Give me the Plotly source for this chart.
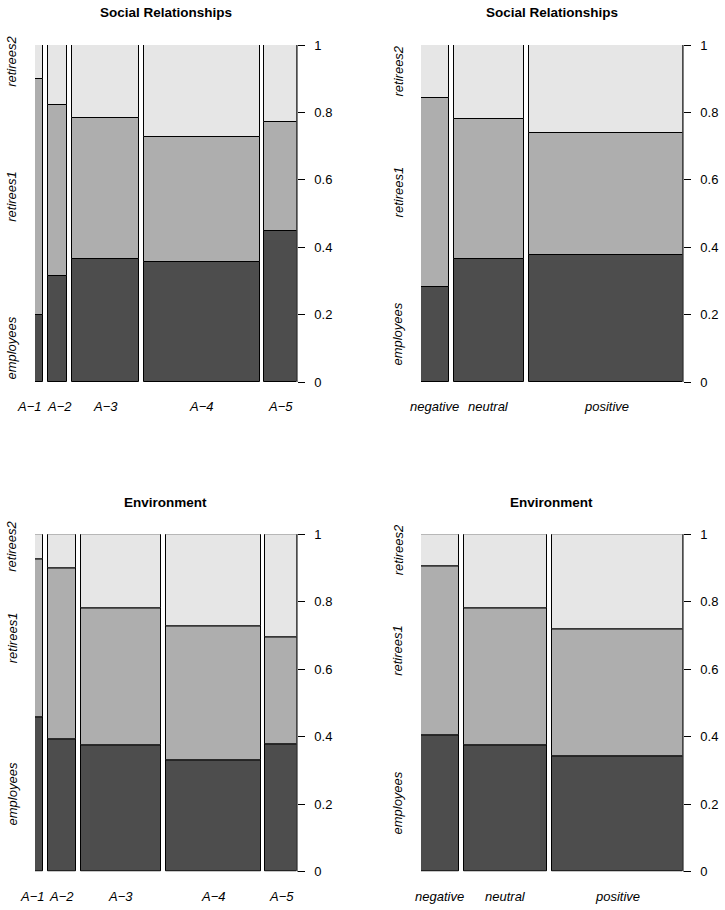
import plotly.graph_objects as go

# group labels
age_groups = ["A\u22121", "A\u22122", "A\u22123", "A\u22124", "A\u22125"]
attitude = ["negative", "neutral", "positive"]
status = ["employees", "retirees1", "retirees2"]

# Social Relationships by age group: column widths (share of cases) and row shares
soc_age_width = [0.0318, 0.0800, 0.2806, 0.4775, 0.1337]
soc_age_emp = [0.200, 0.316, 0.365, 0.356, 0.449]
soc_age_ret1 = [0.700, 0.505, 0.418, 0.372, 0.323]
soc_age_ret2 = [0.100, 0.179, 0.217, 0.272, 0.228]

# Social Relationships by attitude
soc_att_width = [0.110, 0.2806, 0.6097]
soc_att_emp = [0.283, 0.366, 0.377]
soc_att_ret1 = [0.560, 0.416, 0.361]
soc_att_ret2 = [0.157, 0.218, 0.262]

# Environment by age group
env_age_width = [0.0318, 0.1184, 0.3318, 0.3937, 0.1296]
env_age_emp = [0.458, 0.392, 0.374, 0.330, 0.378]
env_age_ret1 = [0.468, 0.508, 0.407, 0.396, 0.317]
env_age_ret2 = [0.074, 0.100, 0.219, 0.274, 0.305]

# Environment by attitude
env_att_width = [0.1498, 0.3315, 0.5234]
env_att_emp = [0.404, 0.374, 0.342]
env_att_ret1 = [0.501, 0.407, 0.375]
env_att_ret2 = [0.095, 0.219, 0.283]

colors = ["#4D4D4D", "#AEAEAE", "#E6E6E6"]
FONT = "Liberation Sans, Arial, Helvetica, sans-serif"
W, H = 725, 910
off = 0.02
FS = 13

# rough Helvetica advance widths (per 1000 em) for label spacing
CHAR_W = {"A": 667, "\u2212": 584, "n": 556, "e": 556, "g": 556, "a": 556,
          "t": 278, "i": 222, "v": 500, "u": 556, "r": 333, "l": 222,
          "p": 556, "o": 556, "s": 500}


def text_width(s):
    return sum(CHAR_W.get(c, 556) for c in s) * FS / 1000.0


panels = [
    dict(title="Social Relationships", cats=age_groups, width=soc_age_width,
         shares=[soc_age_emp, soc_age_ret1, soc_age_ret2],
         xdom=[35, 296.7], ydom=[45, 382.3], title_y=13, lab_y=407),
    dict(title="Social Relationships", cats=attitude, width=soc_att_width,
         shares=[soc_att_emp, soc_att_ret1, soc_att_ret2],
         xdom=[421, 682.7], ydom=[45, 382.3], title_y=13, lab_y=407),
    dict(title="Environment", cats=age_groups, width=env_age_width,
         shares=[env_age_emp, env_age_ret1, env_age_ret2],
         xdom=[35, 296.7], ydom=[534.3, 871.7], title_y=502, lab_y=896),
    dict(title="Environment", cats=attitude, width=env_att_width,
         shares=[env_att_emp, env_att_ret1, env_att_ret2],
         xdom=[421, 682.7], ydom=[534.3, 871.7], title_y=502, lab_y=896),
]


def spread_labels(cx, labels, left_limit, gap=6):
    # push apart labels that would overlap, left one first (down to a limit)
    pos = list(cx)
    for j in range(1, len(pos)):
        need = (text_width(labels[j - 1]) + text_width(labels[j])) / 2 + gap
        short = need - (pos[j] - pos[j - 1])
        if short > 0:
            room = pos[j - 1] - text_width(labels[j - 1]) / 2 - left_limit
            move_left = max(0.0, min(short, room)) if j == 1 else 0.0
            pos[j - 1] -= move_left
            pos[j] += short - move_left
    return pos


fig = go.Figure()
annotations = []
layout = {}

for i, p in enumerate(panels, start=1):
    tot = sum(p["width"])
    widths = [w / tot for w in p["width"]]
    n = len(widths)
    xmax = 1 + off * (n - 1)
    # left edges with R spineplot style gaps
    lefts = []
    pos = 0.0
    for w in widths:
        lefts.append(pos)
        pos += w + off
    centers = [l + w / 2 for l, w in zip(lefts, widths)]

    # normalise row shares per column
    col_tot = [sum(s[j] for s in p["shares"]) for j in range(n)]
    shares = [[s[j] / col_tot[j] for j in range(n)] for s in p["shares"]]

    base = [0.0] * n
    xa = "x" if i == 1 else "x%d" % i
    ya = "y" if i == 1 else "y%d" % i
    for k, s in enumerate(shares):
        fig.add_trace(go.Bar(
            x=centers, y=s, base=base, width=widths,
            marker=dict(color=colors[k], line=dict(color="black", width=1)),
            name=status[k], showlegend=False,
            xaxis=xa, yaxis=ya))
        base = [b + v for b, v in zip(base, s)]

    # status labels on the left, centred on the first column's segments
    cum = 0.0
    for k, s in enumerate(shares):
        mid = cum + s[0] / 2
        cum += s[0]
        annotations.append(dict(
            text=status[k], textangle=-90, showarrow=False,
            xref="paper", x=(p["xdom"][0] - 23) / W, xanchor="center",
            yref=ya, y=mid, yanchor="middle",
            font=dict(family=FONT, size=FS, color="black", style="italic")))

    # category labels below the columns
    x0, x1 = p["xdom"]
    cx = [x0 + c / xmax * (x1 - x0) for c in centers]
    lab_x = spread_labels(cx, p["cats"], x0 - 17)
    for lx, lab in zip(lab_x, p["cats"]):
        annotations.append(dict(
            text=lab, showarrow=False,
            xref="paper", x=lx / W, xanchor="center",
            yref="paper", y=1 - p["lab_y"] / H, yanchor="middle",
            font=dict(family=FONT, size=FS, color="black", style="italic")))

    annotations.append(dict(
        text="<b>%s</b>" % p["title"], showarrow=False,
        xref="paper", x=(x0 + x1) / 2 / W, xanchor="center",
        yref="paper", y=1 - p["title_y"] / H, yanchor="middle",
        font=dict(family=FONT, size=13.5, color="black")))

    key = "" if i == 1 else str(i)
    layout["xaxis" + key] = dict(
        domain=[x0 / W, x1 / W],
        range=[0, xmax], anchor=ya,
        showgrid=False, zeroline=False, showline=False,
        showticklabels=False, ticks="",
        fixedrange=True)
    layout["yaxis" + key] = dict(
        domain=[1 - p["ydom"][1] / H, 1 - p["ydom"][0] / H],
        range=[0, 1], anchor=xa, side="right",
        showgrid=False, zeroline=False,
        showline=True, linecolor="#808080", linewidth=1,
        tickvals=[0, 0.2, 0.4, 0.6, 0.8, 1],
        ticktext=["0", "0.2", "0.4", "0.6", "0.8", "1"],
        ticks="outside", ticklen=7, tickcolor="black", tickwidth=1,
        ticklabelstandoff=7,
        tickfont=dict(family=FONT, size=FS, color="black"),
        fixedrange=True)

fig.update_layout(
    width=W, height=H, autosize=False,
    margin=dict(l=0, r=0, t=0, b=0),
    template="none",
    paper_bgcolor="white", plot_bgcolor="white",
    barmode="overlay", bargap=0,
    font=dict(family=FONT, size=FS, color="black"),
    annotations=annotations,
    **layout)

# the page's default body margin would shift the figure by 8px
fig.write_html("out.html", config={"displayModeBar": False},
               post_script="document.body.style.margin = '0px';")
